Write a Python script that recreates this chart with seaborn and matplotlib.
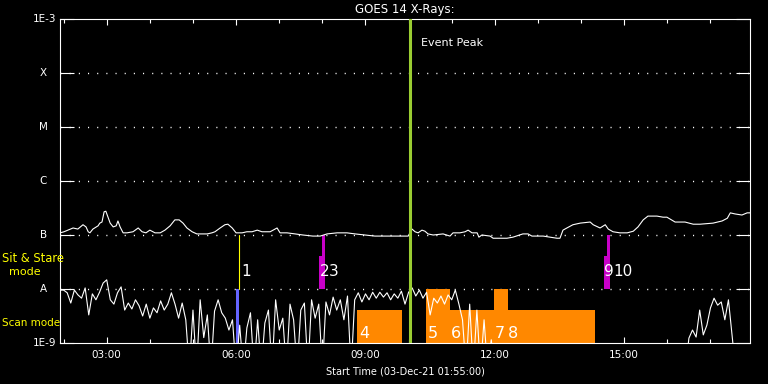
import numpy as np
import pandas as pd
import matplotlib
matplotlib.use("Agg")
import matplotlib.pyplot as plt
import matplotlib.transforms as mtransforms
from matplotlib.ticker import FixedLocator, NullLocator
import seaborn as sns

# --- GOES 14 X-ray light curves, 03-Dec-21 ---
start_hour = 1 + 55 / 60          # 01:55 UT
end_hour = start_hour + 16         # plot spans 16 hours

# 1-8 A channel: (hour of day, log10 flux in W/m^2)
long_hours = [1.92, 2.01, 2.10, 2.22, 2.33, 2.45, 2.52, 2.57, 2.61, 2.68, 2.80, 2.84,
              2.89, 2.94, 2.98, 3.03, 3.08, 3.15, 3.22, 3.26, 3.31, 3.38, 3.47, 3.61,
              3.73, 3.82, 3.91, 4.00, 4.12, 4.24, 4.35, 4.47, 4.58, 4.68, 4.77, 4.86,
              4.98, 5.09, 5.33, 5.44, 5.51, 5.63, 5.74, 5.81, 5.91, 6.00, 6.14, 6.25,
              6.37, 6.49, 6.60, 6.79, 6.95, 7.02, 7.18, 7.37, 7.55, 7.78, 7.95, 8.11,
              8.34, 8.57, 8.76, 8.99, 9.22, 9.45, 9.69, 9.87, 9.99, 10.08, 10.15, 10.22,
              10.31, 10.38, 10.45, 10.57, 10.80, 10.96, 11.03, 11.19, 11.31, 11.38, 11.47,
              11.59, 11.63, 11.70, 11.89, 11.96, 12.28, 12.42, 12.65, 12.77, 12.86, 13.12,
              13.44, 13.51, 13.58, 13.67, 13.81, 13.98, 14.21, 14.28, 14.44, 14.56, 14.63,
              14.74, 14.90, 15.07, 15.21, 15.32, 15.44, 15.55, 15.76, 15.90, 15.99, 16.18,
              16.41, 16.60, 16.76, 17.06, 17.27, 17.39, 17.46, 17.57, 17.73, 17.85, 17.92]
long_logflux = [-6.96, -6.94, -6.91, -6.87, -6.89, -6.81, -6.85, -6.94, -6.96, -6.89, -6.83, -6.78,
                -6.76, -6.57, -6.56, -6.67, -6.78, -6.85, -6.83, -6.74, -6.85, -6.96, -6.96, -6.94,
                -6.87, -6.94, -6.96, -6.91, -6.96, -6.96, -6.91, -6.83, -6.72, -6.72, -6.78, -6.87,
                -6.94, -6.98, -6.98, -6.96, -6.94, -6.87, -6.81, -6.80, -6.87, -6.96, -6.96, -6.94,
                -6.94, -6.91, -6.94, -6.94, -6.87, -6.96, -6.96, -6.98, -7.00, -7.02, -7.02, -6.98,
                -6.96, -6.96, -6.98, -7.00, -7.02, -7.02, -7.02, -7.02, -7.02, -6.89, -6.94, -6.96,
                -6.91, -6.93, -6.98, -7.00, -6.98, -7.02, -6.96, -6.96, -6.94, -6.91, -6.96,
                -6.96, -7.04, -7.00, -7.02, -7.06, -7.06, -7.04, -6.98, -6.98, -7.02, -7.02,
                -7.06, -7.06, -6.91, -6.87, -6.81, -6.78, -6.76, -6.81, -6.87, -6.81, -6.89,
                -6.94, -6.96, -6.96, -6.93, -6.85, -6.72, -6.65, -6.65, -6.67, -6.67, -6.76,
                -6.76, -6.80, -6.80, -6.78, -6.74, -6.69, -6.59, -6.61, -6.63, -6.59, -6.59]

# 0.5-4 A channel, one sample every 5 minutes from 01:55 (-9.5 = below plot floor)
short_step_min = 5
short_logflux = [
    -8.02, -8.02, -8.07, -8.26, -8.02, -8.11, -8.17, -7.98, -8.48, -8.09, -8.20, -8.06,
    -7.89, -7.83, -8.20, -8.28, -8.07, -7.96, -8.39, -8.26, -8.37, -8.20, -8.31, -8.50,
    -8.28, -8.54, -8.35, -8.44, -8.22, -8.39, -8.28, -8.07, -8.28, -8.54, -8.26, -8.57,
    -9.50, -8.39, -9.50, -8.20, -8.90, -8.48, -9.50, -8.41, -8.20, -8.44, -8.54, -8.76,
    -8.57, -9.50, -8.67, -9.50, -8.72, -8.44, -9.50, -8.57, -9.50, -8.63, -8.39, -9.50,
    -8.20, -8.76, -8.54, -9.50, -8.28, -8.57, -9.50, -8.39, -8.26, -9.50, -8.20, -8.54,
    -8.28, -9.50, -8.24, -8.48, -8.15, -8.39, -8.20, -8.57, -8.13, -9.50, -8.20, -8.07,
    -8.24, -8.09, -8.20, -8.06, -8.17, -8.06, -8.15, -8.07, -8.20, -8.09, -8.17, -8.04,
    -8.28, -8.06, -7.98, -8.13, -8.02, -8.17, -8.06, -8.48, -8.17, -8.26, -8.13, -8.28,
    -8.11, -8.20, -8.02, -8.28, -8.57, -9.50, -8.28, -9.50, -8.39, -9.50, -8.57, -9.50,
    -8.94, -9.50, -9.50, -9.50, -9.50, -9.50, -9.50, -9.50, -9.50, -9.50, -9.50, -9.50,
    -9.50, -9.50, -9.50, -9.50, -9.50, -9.50, -9.50, -9.50, -9.50, -9.50, -9.50, -9.50,
    -9.50, -9.50, -9.50, -9.50, -9.50, -9.50, -9.50, -9.50, -9.50, -9.50, -9.50, -9.50,
    -9.50, -9.50, -9.50, -9.50, -9.50, -9.50, -9.50, -9.50, -9.50, -9.50, -9.50, -9.50,
    -9.50, -9.50, -9.50, -9.50, -9.50, -9.50, -9.50, -8.91, -8.76, -8.89, -8.39, -8.85,
    -8.67, -8.35, -8.17, -8.30, -8.24, -8.57, -8.20, -8.85, -9.50]

peak_hour = 10.03

# observing events: start / end hour and log10 top of the bar
ss_starts = [7.92, 7.99, 14.53, 14.60]          # sit & stare (events 2, 3, 9, 10)
ss_ends = [8.06, 8.06, 14.67, 14.67]
ss_tops = [-7.39, -7.0, -7.39, -7.0]
scan_starts = [8.80, 10.40, 10.96, 11.98, 12.31]  # scan mode (events 4-8)
scan_ends = [9.85, 10.96, 11.98, 12.31, 14.32]
scan_tops = [-8.39, -8.0, -8.39, -8.0, -8.39]
ev1_start, ev1_end = 6.00, 6.07

ss_label_text = ['1', '2', '3', '9', '10']
ss_label_hours = [6.13, 7.94, 8.15, 14.54, 14.75]
scan_label_text = ['4', '5', '6', '7', '8']
scan_label_hours = [8.85, 10.45, 10.98, 12.00, 12.30]

level_names = ['1E-9', 'A', 'B', 'C', 'M', 'X', '1E-3']
level_logs = [-9, -8, -7, -6, -5, -4, -3]

# ---------------------------------------------------------------
sns.set_theme(style="dark", rc={
    "figure.facecolor": "black", "axes.facecolor": "black",
    "axes.edgecolor": "white", "text.color": "white",
    "xtick.color": "white", "ytick.color": "white",
})
plt.rcParams['font.family'] = ['DejaVu Sans']

long_df = pd.DataFrame({"hour": long_hours, "flux": np.power(10.0, long_logflux)})
short_df = pd.DataFrame({
    "hour": start_hour + np.arange(len(short_logflux)) * short_step_min / 60,
    "flux": np.power(10.0, short_logflux),
})

fig = plt.figure(figsize=(7.68, 3.84), dpi=100)
ax = fig.add_axes([60 / 768, 1 - 343 / 384, 690 / 768, 324 / 384])

# event bars
bot_ss, bot_scan = 1e-8, 1e-9
for s, e, t in zip(ss_starts, ss_ends, ss_tops):
    ax.bar(s, 10 ** t - bot_ss, width=e - s, bottom=bot_ss, align='edge',
           color='#c800c8', linewidth=0, zorder=2)
for s, e, t in zip(scan_starts, scan_ends, scan_tops):
    ax.bar(s, 10 ** t - bot_scan, width=e - s, bottom=bot_scan, align='edge',
           color='#ff8800', linewidth=0, zorder=2)
ax.bar(ev1_start, bot_ss - bot_scan, width=ev1_end - ev1_start, bottom=bot_scan,
       align='edge', color='#6464ff', linewidth=0, zorder=2)
ax.plot([ev1_end, ev1_end], [1e-8, 1e-7], color='yellow', lw=0.8, zorder=2)

# light curves
sns.lineplot(data=short_df, x="hour", y="flux", ax=ax, color="white",
             linewidth=0.8, zorder=3)
sns.lineplot(data=long_df, x="hour", y="flux", ax=ax, color="white",
             linewidth=0.8, zorder=3)

ax.set_yscale('log')
ax.set_xlim(start_hour, end_hour)
ax.set_ylim(1e-9, 1e-3)

# dotted flare-class levels
for lg in level_logs[1:-1]:
    ax.axhline(10.0 ** lg, color='white', lw=1.0, linestyle=(0, (0.8, 5.8)), zorder=1)

# event peak
ax.axvline(peak_hour, color='#9acd32', lw=2.2, zorder=4)
ax.text(peak_hour + 0.25, 10 ** -3.44, "Event Peak", color='white', fontsize=8,
        ha='left', va='center')

# event numbers
for txt, h in zip(ss_label_text, ss_label_hours):
    ax.text(h, 10 ** -7.68, txt, color='white', fontsize=11, ha='left', va='center', zorder=5)
for txt, h in zip(scan_label_text, scan_label_hours):
    ax.text(h, 10 ** -8.82, txt, color='white', fontsize=11.5, ha='left', va='center', zorder=5)

# axes styling
ax.grid(False)
for sp in ax.spines.values():
    sp.set_color('white')
    sp.set_linewidth(0.8)
ax.set_xlabel('')
ax.set_ylabel('')
ax.xaxis.set_major_locator(FixedLocator([3, 6, 9, 12, 15]))
ax.xaxis.set_minor_locator(FixedLocator(list(range(2, 18))))
ax.set_xticklabels(['03:00', '06:00', '09:00', '12:00', '15:00'])
ax.tick_params(axis='x', which='both', direction='in', top=True, bottom=True,
               labelsize=7.5, pad=5, width=0.8)
ax.tick_params(axis='x', which='major', length=4)
ax.tick_params(axis='x', which='minor', length=3)
ax.yaxis.set_major_locator(FixedLocator([10.0 ** v for v in level_logs]))
ax.yaxis.set_minor_locator(NullLocator())
ax.tick_params(axis='y', which='major', direction='in', left=True, right=True,
               length=10, width=0.8, labelleft=False)

ytr = mtransforms.blended_transform_factory(ax.transAxes, ax.transData)
for name, lg in zip(level_names, level_logs):
    if name.startswith('1E'):
        ax.text(-0.005, 10.0 ** lg, name, transform=ytr, ha='right', va='center',
                fontsize=7.5, color='white')
    else:
        ax.text(-0.024, 10.0 ** lg, name, transform=ytr, ha='center', va='center',
                fontsize=7.5, color='white')

fig.text(405 / 768, 1 - 9 / 384, "GOES 14 X-Rays:", ha='center', va='center',
         fontsize=8.5, color='white')
fig.text(405 / 768, 1 - 372 / 384, "Start Time (03-Dec-21 01:55:00)", ha='center',
         va='center', fontsize=7, color='white')
fig.text(2 / 768, 1 - 258 / 384, "Sit & Stare", ha='left', va='center', fontsize=8.3,
         color='yellow')
fig.text(25 / 768, 1 - 272 / 384, "mode", ha='center', va='center', fontsize=8,
         color='yellow')
fig.text(2 / 768, 1 - 323 / 384, "Scan mode", ha='left', va='center', fontsize=7.5,
         color='yellow')

fig.savefig("out.png", dpi=100, facecolor='black')
